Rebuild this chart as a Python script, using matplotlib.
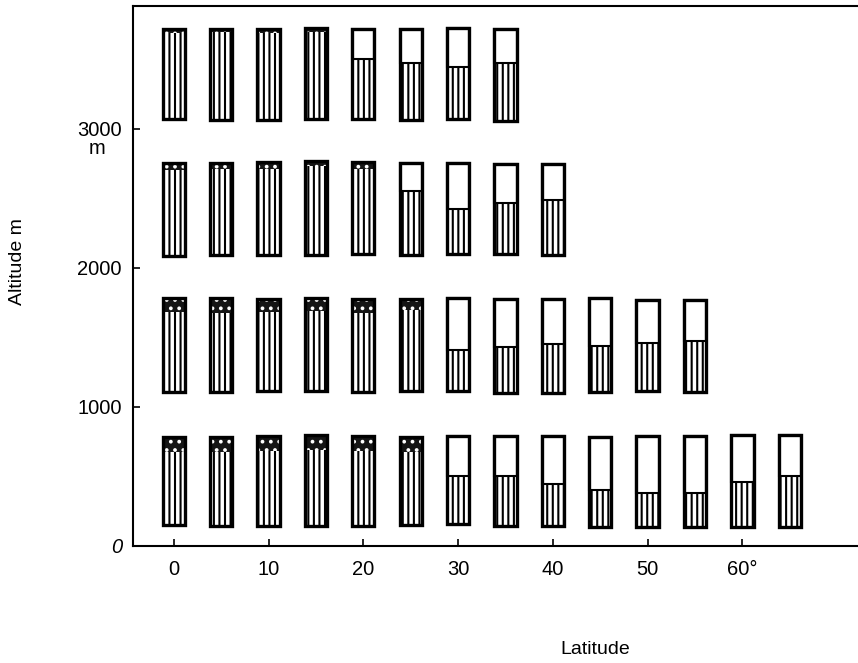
import matplotlib
matplotlib.use("Agg")
import matplotlib.pyplot as plt

plt.rcParams['font.family'] = ['Liberation Sans', 'DejaVu Sans']
plt.rcParams['hatch.linewidth'] = 1.5

# altitude bands: latitude of each column, base, top of hatched part, top of column
# the first n_cap columns of a band carry a dark dotted cap from veg to top,
# the others are white from veg to top
lat1 = [0, 5, 10, 15, 20, 25, 30, 35, 40, 45, 50, 55, 60, 65]
base1 = [148, 146, 144, 141, 146, 151, 156, 147, 144, 135, 140, 139, 136, 134]
veg1 = [673, 678, 683, 688, 686, 676, 501, 506, 446, 401, 378, 383, 460, 507]
top1 = [781, 786, 791, 796, 794, 784, 789, 794, 791, 783, 788, 794, 798, 795]
ncap1 = 6

lat2 = [0, 5, 10, 15, 20, 25, 30, 35, 40, 45, 50, 55]
base2 = [1105, 1110, 1115, 1112, 1110, 1115, 1113, 1104, 1101, 1106, 1112, 1110]
veg2 = [1681, 1678, 1683, 1688, 1678, 1698, 1408, 1428, 1453, 1437, 1457, 1477]
top2 = [1781, 1786, 1777, 1781, 1779, 1777, 1782, 1780, 1777, 1783, 1773, 1772]
ncap2 = 6

lat3 = [0, 5, 10, 15, 20, 25, 30, 35, 40]
base3 = [2083, 2096, 2094, 2091, 2103, 2094, 2098, 2097, 2094]
veg3 = [2702, 2714, 2712, 2731, 2714, 2554, 2422, 2470, 2489]
top3 = [2752, 2758, 2763, 2767, 2765, 2755, 2753, 2751, 2748]
ncap3 = 5

lat4 = [0, 5, 10, 15, 20, 25, 30, 35]
base4 = [3069, 3067, 3065, 3069, 3074, 3065, 3070, 3061]
veg4 = [3690, 3695, 3690, 3695, 3506, 3475, 3444, 3478]
top4 = [3717, 3722, 3719, 3724, 3722, 3719, 3724, 3722]
ncap4 = 4

xticks = [0, 10, 20, 30, 40, 50, 60]
xticklabels = ['0', '10', '20', '30', '40', '50', '60°']
yticks = [0, 1000, 2000, 3000]
yticklabels = ['0', '1000', '2000', '3000']

W = 2.35

fig = plt.figure(figsize=(8.58, 6.63), dpi=100)
ax = fig.add_axes([0.155, 0.1765, 0.845, 0.8145])

bands = [(lat1, base1, veg1, top1, ncap1),
         (lat2, base2, veg2, top2, ncap2),
         (lat3, base3, veg3, top3, ncap3),
         (lat4, base4, veg4, top4, ncap4)]

for lat, base, veg, top, ncap in bands:
    hatched = [v - b for v, b in zip(veg, base)]
    upper = [t - v for t, v in zip(top, veg)]
    total = [t - b for t, b in zip(top, base)]
    # hatched lower part
    ax.bar(lat, hatched, bottom=base, width=W, color='white',
           edgecolor='black', hatch='|||', linewidth=0)
    # dotted dark caps
    ax.bar(lat[:ncap], upper[:ncap], bottom=veg[:ncap], width=W,
           color='#151515', linewidth=0)
    ax.bar(lat[:ncap], upper[:ncap], bottom=veg[:ncap], width=W,
           color='none', edgecolor='white', hatch='..', linewidth=0)
    # white upper part, with a line at the boundary
    ax.bar(lat[ncap:], upper[ncap:], bottom=veg[ncap:], width=W,
           color='white', edgecolor='black', linewidth=1.5)
    # outline of the column
    ax.bar(lat, total, bottom=base, width=W, color='none',
           edgecolor='black', linewidth=2.4)

ax.set_xlim(-4.3, 72.2)
ax.set_ylim(0, 3885)
ax.spines['right'].set_visible(False)
for s in ['left', 'bottom', 'top']:
    ax.spines[s].set_linewidth(1.5)

ax.set_xticks(xticks)
ax.set_xticklabels(xticklabels, fontsize=14.5)
ax.set_yticks(yticks)
ax.set_yticklabels(yticklabels, fontsize=14.5)
ax.get_yticklabels()[0].set_style('italic')
ax.tick_params(axis='both', direction='in', length=5, width=1.2)
ax.tick_params(axis='x', pad=10)
ax.tick_params(axis='y', pad=8)

# unit under the top label
ax.annotate('m', xy=(0, 3000), xycoords=('axes fraction', 'data'),
            xytext=(-26, -14), textcoords='offset points',
            ha='center', va='center', fontsize=14.5)

fig.text(18 / 858, 1 - 262 / 663, 'Altitude m', rotation=90,
         ha='center', va='center', fontsize=14)
fig.text(595 / 858, 1 - 650 / 663, 'Latitude', ha='center', va='center',
         fontsize=14)

fig.savefig('out.png', dpi=100)
